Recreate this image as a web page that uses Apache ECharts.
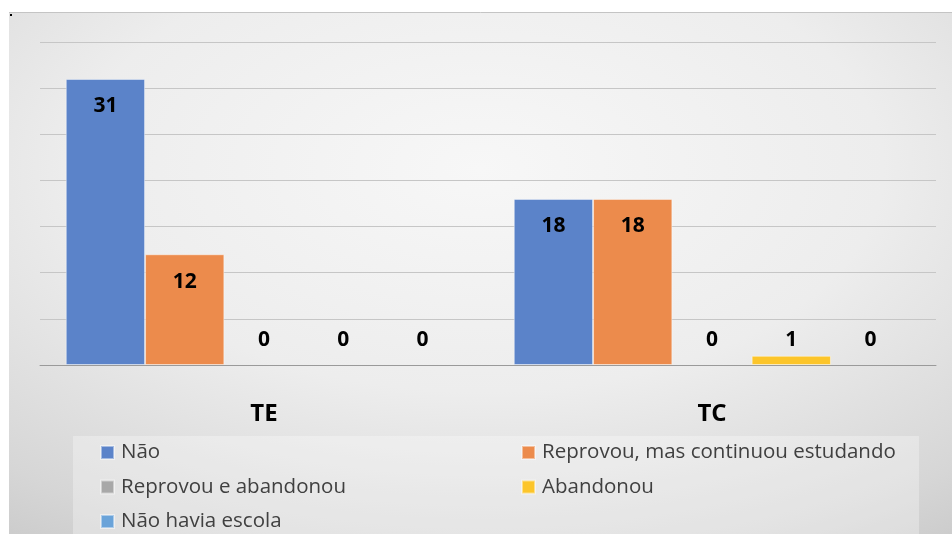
<!DOCTYPE html>
<html>
<head>
<meta charset="utf-8">
<script src="https://cdn.jsdelivr.net/npm/echarts@6/dist/echarts.min.js"></script>
<style>
  html, body { margin: 0; padding: 0; background: #fff; }
  #chart { width: 952px; height: 534px; }
</style>
</head>
<body>
<div id="chart"></div>
<script>
// dados do gráfico
var categorias = ['TE', 'TC'];
var nomes = ['Não', 'Reprovou, mas continuou estudando', 'Reprovou e abandonou', 'Abandonou', 'Não havia escola'];
var naoVals = [31, 18];
var reprovouContinuouVals = [12, 18];
var reprovouAbandonouVals = [0, 0];
var abandonouVals = [0, 1];
var naoHaviaEscolaVals = [0, 0];
var cores = ['#5b83c9', '#ec8b4c', '#a8a8a8', '#fcc52a', '#6aa3d9'];

var myChart = echarts.init(document.getElementById('chart'));

function montaDados(vals) {
    return vals.map(function (v) {
        // barras pequenas: rótulo acima do eixo, como no original
        if (v === 0) {
            return { value: v, itemStyle: { borderWidth: 0 }, label: { position: 'insideBottom', distance: 14 } };
        }
        if (v < 3) {
            return { value: v, label: { position: 'insideBottom', distance: 14 } };
        }
        return v;
    });
}

var todas = [naoVals, reprovouContinuouVals, reprovouAbandonouVals, abandonouVals, naoHaviaEscolaVals];
var series = todas.map(function (vals, i) {
    return {
        name: nomes[i],
        type: 'bar',
        data: montaDados(vals),
        barGap: '0%',
        barCategoryGap: '11.5%',
        itemStyle: {
            color: cores[i],
            borderColor: 'rgba(255,255,255,0.45)',
            borderWidth: 1
        },
        label: {
            show: true,
            position: 'insideTop',
            distance: 17,
            color: '#000',
            fontSize: 21,
            fontWeight: 'bold',
            fontFamily: 'Open Sans'
        }
    };
});

var legendaTexto = {
    color: '#404040',
    fontSize: 20.5,
    lineHeight: 23,
    fontFamily: 'Open Sans',
    padding: [0, 0, 0, 2]
};

option = {
    animation: false,
    backgroundColor: '#fff',
    graphic: [
        {
            type: 'rect',
            x: 9, y: 12,
            scaleX: 943 / 522,
            shape: { x: 0, y: 0, width: 522, height: 522 },
            style: {
                fill: {
                    type: 'radial', x: 0.5, y: 0.3, r: 0.95,
                    colorStops: [
                        { offset: 0, color: '#f7f7f7' },
                        { offset: 0.45, color: '#ededed' },
                        { offset: 0.8, color: '#d6d6d6' },
                        { offset: 1, color: '#c4c4c4' }
                    ]
                }
            },
            z: -10
        },
        {
            type: 'line',
            shape: { x1: 9, y1: 12.5, x2: 952, y2: 12.5 },
            style: { stroke: '#c4c4c4', lineWidth: 1 },
            z: -9
        },
        {
            type: 'rect',
            shape: { x: 10, y: 14, width: 2, height: 2 },
            style: { fill: '#000' },
            z: -9
        },
        {
            type: 'rect',
            shape: { x: 73, y: 436, width: 846, height: 98 },
            style: { fill: 'rgba(255,255,255,0.3)' },
            z: -8
        }
    ],
    grid: {
        left: 40,
        right: 16,
        top: 42,
        bottom: 169
    },
    xAxis: {
        type: 'category',
        data: categorias,
        axisLine: { lineStyle: { color: '#9a9a9a', width: 1 } },
        axisTick: { show: false },
        axisLabel: {
            margin: 37,
            color: '#000',
            fontSize: 24,
            fontWeight: 'bold',
            fontFamily: 'Open Sans'
        }
    },
    yAxis: {
        type: 'value',
        min: 0,
        max: 35,
        interval: 5,
        axisLabel: { show: false },
        axisLine: { show: false },
        axisTick: { show: false },
        splitLine: { lineStyle: { color: '#c6c6c6', width: 1 } }
    },
    legend: [
        {
            data: [nomes[0], nomes[2], nomes[4]],
            orient: 'vertical',
            left: 100,
            top: 441,
            padding: 0,
            itemWidth: 13,
            itemHeight: 13,
            itemGap: 11.5,
            icon: 'rect',
            selectedMode: false,
            textStyle: legendaTexto
        },
        {
            data: [nomes[1], nomes[3]],
            orient: 'vertical',
            left: 521,
            top: 441,
            padding: 0,
            itemWidth: 13,
            itemHeight: 13,
            itemGap: 11.5,
            icon: 'rect',
            selectedMode: false,
            textStyle: legendaTexto
        }
    ],
    series: series
};

myChart.setOption(option);
</script>
</body>
</html>
